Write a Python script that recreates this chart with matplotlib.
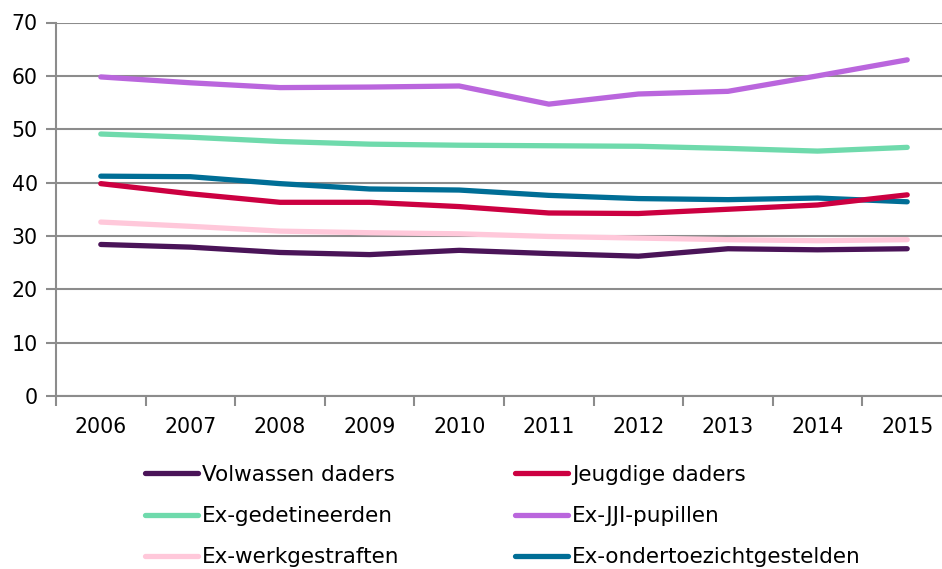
import matplotlib.pyplot as plt
from matplotlib.lines import Line2D

years = [2006, 2007, 2008, 2009, 2010, 2011, 2012, 2013, 2014, 2015]

volwassen_daders = [28.4, 27.9, 26.9, 26.5, 27.3, 26.7, 26.2, 27.6, 27.4, 27.6]
jeugdige_daders = [39.8, 37.9, 36.3, 36.3, 35.5, 34.3, 34.2, 35.0, 35.8, 37.7]
ex_gedetineerden = [49.1, 48.5, 47.7, 47.2, 47.0, 46.9, 46.8, 46.4, 45.9, 46.6]
ex_jji_pupillen = [59.8, 58.7, 57.8, 57.9, 58.1, 54.7, 56.6, 57.1, 60.0, 63.0]
ex_werkgestraften = [32.6, 31.8, 30.9, 30.6, 30.4, 29.9, 29.6, 29.3, 29.1, 29.3]
ex_ondertoezichtgestelden = [41.2, 41.1, 39.8, 38.8, 38.6, 37.6, 37.0, 36.8, 37.1, 36.4]

series = [
    ("Volwassen daders", volwassen_daders, "#4a1458"),
    ("Jeugdige daders", jeugdige_daders, "#cc0041"),
    ("Ex-gedetineerden", ex_gedetineerden, "#6fdaac"),
    ("Ex-JJI-pupillen", ex_jji_pupillen, "#ba66dd"),
    ("Ex-werkgestraften", ex_werkgestraften, "#ffc8da"),
    ("Ex-ondertoezichtgestelden", ex_ondertoezichtgestelden, "#006e96"),
]

W, H = 942, 569
fs = 14.8
grey = "#8c8c8c"

fig = plt.figure(figsize=(W / 100, H / 100), dpi=100)
ax = fig.add_axes([56 / W, (H - 396) / H, (952 - 56) / W, (396 - 22.5) / H])

# draw order: pink first so it sits behind the others
for name, vals, color in [series[4], series[2], series[0], series[3], series[5], series[1]]:
    ax.plot(years, vals, color=color, lw=3.8, solid_capstyle="round", solid_joinstyle="round")

ax.set_ylim(0, 70)
ax.set_yticks(range(0, 71, 10))
ax.set_xlim(years[0] - 0.5, years[-1] + 0.5)
# Excel style: tick marks between categories, labels at the centre
ax.set_xticks([y - 0.5 for y in years] + [years[-1] + 0.5])
ax.set_xticklabels([])
ax.set_xticks(years, minor=True)
ax.set_xticklabels([str(y) for y in years], minor=True, fontsize=fs)
ax.tick_params(axis="x", which="major", length=7, color=grey, width=1.5)
ax.tick_params(axis="x", which="minor", length=0, pad=15)
ax.tick_params(axis="y", length=7, color=grey, width=1.5, labelsize=fs, pad=6)

ax.grid(axis="y", color=grey, lw=1.5)
ax.set_axisbelow(True)
for s in ["top", "right"]:
    ax.spines[s].set_visible(False)
for s in ["left", "bottom"]:
    ax.spines[s].set_color(grey)
    ax.spines[s].set_linewidth(1.5)

def make_handles(items):
    return [Line2D([], [], color=c, lw=3.8, solid_capstyle="round") for _, _, c in items]

col1 = [series[0], series[2], series[4]]
col2 = [series[1], series[3], series[5]]
for items, x0 in [(col1, 145), (col2, 515)]:
    fig.legend(make_handles(items), [n for n, _, _ in items],
               loc="upper left", bbox_to_anchor=(x0 / W, 1 - 465 / H),
               frameon=False, fontsize=15.5, handlelength=2.45, handletextpad=0.2,
               labelspacing=0.98, borderpad=0, borderaxespad=0)

fig.savefig("out.png", dpi=100)
